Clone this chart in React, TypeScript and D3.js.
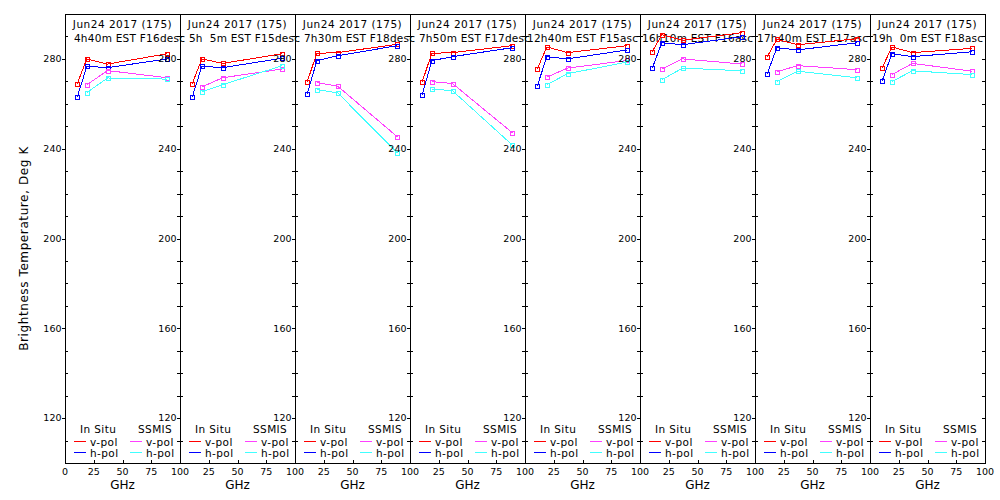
import * as d3 from 'd3';
import { useMemo } from 'react';

const WIDTH = 1000;
const HEIGHT = 500;
const MARGIN = { left: 65, top: 14, bottom: 463 };
const PANEL_WIDTH = 115;

const DATE_LABEL = 'Jun24 2017 (175)';
const PASS_LABELS = [
    '\u20074h40m EST F16desc',
    '\u20075h\u20075m EST F15desc',
    '\u20077h30m EST F18desc',
    '\u20077h50m EST F17desc',
    '12h40m EST F15asc',
    '16h10m EST F16asc',
    '17h40m EST F17asc',
    '19h\u20070m EST F18asc',
];

// channel frequencies, GHz
const FREQ_INSITU = [10.65, 19, 37, 89];
const FREQ_SSMIS = [19, 37, 89];

// brightness temperatures, deg K, one row per panel
const INSITU_V = [
    [269.0, 280.0, 277.7, 282.3],
    [269.0, 280.0, 278.0, 282.3],
    [269.9, 282.5, 282.8, 286.5],
    [269.9, 282.5, 282.8, 285.9],
    [275.5, 285.3, 282.8, 285.9],
    [283.2, 290.8, 288.3, 291.7],
    [281.0, 288.7, 286.3, 289.0],
    [276.1, 285.3, 282.8, 284.7],
];
const INSITU_H = [
    [263.0, 276.7, 276.1, 280.0],
    [263.0, 276.7, 276.1, 280.3],
    [264.5, 279.2, 281.4, 285.9],
    [264.1, 279.2, 281.0, 285.0],
    [267.9, 281.0, 280.0, 284.0],
    [275.9, 287.2, 286.3, 289.9],
    [273.4, 285.0, 284.0, 287.2],
    [270.3, 282.3, 281.0, 283.2],
];
const SSMIS_V = [
    [268.5, 274.8, 271.6],
    [267.5, 271.6, 275.5],
    [269.4, 267.9, 245.3],
    [269.9, 269.0, 247.1],
    [271.9, 275.9, 279.3],
    [275.5, 280.0, 277.7],
    [274.3, 277.0, 275.2],
    [273.0, 278.0, 274.5],
];
const SSMIS_H = [
    [265.0, 271.5, 271.0],
    [265.4, 268.5, 277.0],
    [266.3, 264.9, 238.2],
    [266.6, 265.8, 241.6],
    [268.5, 273.4, 278.6],
    [270.7, 275.9, 274.7],
    [269.9, 274.5, 271.6],
    [269.9, 274.7, 273.0],
];

const X_TICKS = [0, 25, 50, 75, 100];
const Y_LABELS = [120, 160, 200, 240, 280];

const SERIES = [
    { rows: INSITU_V, freqs: FREQ_INSITU, color: '#ff0000' },
    { rows: INSITU_H, freqs: FREQ_INSITU, color: '#0000ff' },
    { rows: SSMIS_V, freqs: FREQ_SSMIS, color: '#ff40ff' },
    { rows: SSMIS_H, freqs: FREQ_SSMIS, color: '#40ffff' },
];

const FONT = "'DejaVu Sans', sans-serif";

function Panel({ index, y }: { index: number; y: d3.ScaleLinear<number, number> }) {
    const left = MARGIN.left + index * PANEL_WIDTH;
    const right = left + PANEL_WIDTH;
    const x = useMemo(() => d3.scaleLinear().domain([0, 100]).range([left, right]), [left, right]);
    const line = d3
        .line<[number, number]>()
        .x((d) => x(d[0]))
        .y((d) => y(d[1]));
    const minor = y.ticks(20).filter((v) => v > 100 && v < 300);
    const mid = (left + right) / 2;
    // the 0 of each later panel sits under the 100 of the one before
    const xLabels = index === 0 ? X_TICKS : X_TICKS.slice(1);

    return (
        <g>
            {/* frame */}
            <rect
                x={left + 0.5}
                y={MARGIN.top + 0.5}
                width={PANEL_WIDTH}
                height={MARGIN.bottom - MARGIN.top}
                fill="none"
                stroke="#000"
                shapeRendering="crispEdges"
            />
            {/* ticks */}
            <g stroke="#000" shapeRendering="crispEdges">
                {minor.map((v) => (
                    <g key={v}>
                        {!Y_LABELS.includes(v) && (
                            <line x1={left} x2={left + 3} y1={Math.round(y(v)) + 0.5} y2={Math.round(y(v)) + 0.5} />
                        )}
                        <line x1={right - 3} x2={right} y1={Math.round(y(v)) + 0.5} y2={Math.round(y(v)) + 0.5} />
                    </g>
                ))}
                {Y_LABELS.map((v) => (
                    <line key={v} x1={left - 3} x2={left} y1={Math.round(y(v)) + 0.5} y2={Math.round(y(v)) + 0.5} />
                ))}
                {X_TICKS.slice(1, -1).map((v) => (
                    <line key={v} x1={Math.round(x(v)) + 0.5} x2={Math.round(x(v)) + 0.5} y1={MARGIN.bottom - 3} y2={MARGIN.bottom} />
                ))}
            </g>
            <g fontSize={9.5} textAnchor="end">
                {Y_LABELS.map((v) => (
                    <text key={v} x={left - 3.5} y={y(v)} dy="0.35em">
                        {v}
                    </text>
                ))}
            </g>
            <g fontSize={9.5} textAnchor="middle">
                {xLabels.map((v) => (
                    <text key={v} x={x(v)} y={474.5}>
                        {v}
                    </text>
                ))}
            </g>
            <text x={mid} y={489} fontSize={12} textAnchor="middle">
                GHz
            </text>
            {/* header */}
            <text x={mid} y={28} fontSize={10.5} letterSpacing={0.5} textAnchor="middle">
                {DATE_LABEL}
            </text>
            <text x={left + 2} y={41.5} fontSize={10.5} letterSpacing={0.25} xmlSpace="preserve">
                {PASS_LABELS[index]}
            </text>
            {/* data */}
            {SERIES.map((s, si) => {
                const pts = s.freqs.map((f, i) => [f, s.rows[index][i]] as [number, number]);
                return (
                    <g key={si} stroke={s.color} fill="none" shapeRendering="crispEdges">
                        <path d={line(pts) ?? ''} />
                        {pts.map((p, i) => (
                            <rect
                                key={i}
                                x={Math.round(x(p[0])) - 1.5}
                                y={Math.round(y(p[1])) - 1.5}
                                width={4}
                                height={4}
                            />
                        ))}
                    </g>
                );
            })}
            {/* legend */}
            <g fontSize={10.5} letterSpacing={0.4}>
                <text x={left + 15} y={433}>
                    In Situ
                </text>
                <text x={left + 73} y={433}>
                    SSMIS
                </text>
                {SERIES.map((s, si) => {
                    const col = si < 2 ? 0 : 1;
                    const row = si % 2;
                    const lx = left + (col === 0 ? 9 : 65);
                    const ly = 441.5 + row * 11;
                    return (
                        <g key={si}>
                            <line x1={lx} x2={lx + 12} y1={ly} y2={ly} stroke={s.color} shapeRendering="crispEdges" />
                            <text x={lx + 16} y={ly + 4}>
                                {row === 0 ? 'v-pol' : 'h-pol'}
                            </text>
                        </g>
                    );
                })}
            </g>
        </g>
    );
}

export default function App() {
    const y = useMemo(
        () => d3.scaleLinear().domain([100, 300]).range([MARGIN.bottom, MARGIN.top]),
        []
    );
    const panels = d3.range(INSITU_V.length);

    return (
        <svg
            width={WIDTH}
            height={HEIGHT}
            viewBox={`0 0 ${WIDTH} ${HEIGHT}`}
            style={{ position: 'absolute', left: 0, top: 0, background: '#fff' }}
            fontFamily={FONT}
        >
            {panels.map((i) => (
                <Panel key={i} index={i} y={y} />
            ))}
            <text
                transform={`translate(27.5, ${(MARGIN.top + MARGIN.bottom) / 2 + 10}) rotate(-90)`}
                fontSize={12}
                letterSpacing={0.6}
                textAnchor="middle"
            >
                Brightness Temperature, Deg K
            </text>
        </svg>
    );
}
